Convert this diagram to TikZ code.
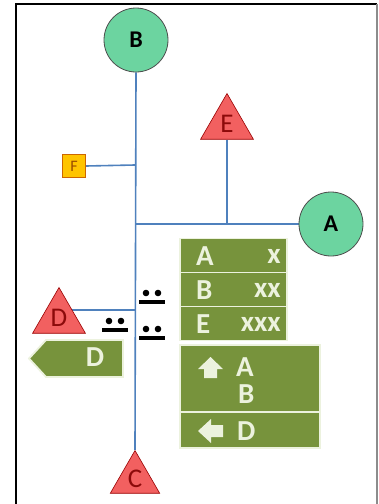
\documentclass[tikz,border=0pt]{standalone}
\usepackage{fontspec}
\setmainfont{Carlito}
\usetikzlibrary{shapes.geometric}
\definecolor{mint}{RGB}{108,212,160}
\definecolor{redtri}{RGB}{242,96,96}
\definecolor{redtxt}{RGB}{140,10,10}
\definecolor{gold}{RGB}{255,196,0}
\definecolor{olive}{RGB}{119,147,60}
\definecolor{cream}{RGB}{236,242,222}
\definecolor{linkblue}{RGB}{79,129,189}
\pgfdeclarelayer{background}
\pgfsetlayers{background,main}
\tikzset{
  circ/.style={circle, draw=black!70, line width=0.8pt, fill=mint, minimum size=64pt, inner sep=0pt,
    font=\fontsize{24}{24}\selectfont\bfseries},
  tri/.style={regular polygon, regular polygon sides=3, draw=red!60!black, line width=0.6pt, fill=redtri,
    minimum size=61pt, inner sep=0pt, text=redtxt, font=\fontsize{27}{27}\selectfont},
  fbox/.style={rectangle, draw=orange!80!black, line width=0.8pt, fill=gold, minimum size=23pt, inner sep=0pt,
    text=orange!60!black, font=\fontsize{16}{16}\selectfont},
  link/.style={draw=linkblue, line width=1.6pt},
  signbox/.style={rectangle, draw=cream, line width=1.8pt, fill=olive, inner sep=0pt},
  signtxt/.style={text=cream, inner sep=0pt, font=\fontsize{29}{29}\selectfont\bfseries},
  warrow/.style={fill=cream, draw=none},
  pics/walk/.style={code={
    \fill (-6,-3) circle (3.3pt);
    \fill (6,-3) circle (3.3pt);
    \fill (-13,3.5) rectangle (13,7.5);
  }}
}
\begin{document}
\begin{tikzpicture}[x=1pt,y=-1pt]
\useasboundingbox (0,0) rectangle (379,504);
% frame
\draw[black, line width=2pt] (16,504) -- (16,4) -- (377,4);
\draw[black!45, line width=1.2pt] (377,4) -- (377,504);

% nodes
\node[circ] (B) at (136,40) {B};
\node[circ] (A) at (331,224) {A};
\node[tri] (E) at (227,124) {E};
\node[tri] (D) at (59,318) {D};
\node[tri, minimum size=57pt] (C) at (135,479) {C};
\node[fbox] (F) at (74,166) {F};

\coordinate (jF) at (135,165);
\coordinate (jA) at (135,224);
\coordinate (jE) at (227,224);
\coordinate (jD) at (135,310);

\begin{pgfonlayer}{background}
\draw[link] (B.south) -- (C.corner 1);
\draw[link] (F.east) -- (jF);
\draw[link] (jA) -- (A.west);
\draw[link] (E.side 2) -- (jE);
\draw[link] (jD) -- (D.center |- jD);
\end{pgfonlayer}

% pedestrian symbols
\pic (w1) at (152,296) {walk};
\pic (w2) at (115,324) {walk};
\pic (w3) at (152,332) {walk};

% sign table
\node[signbox, minimum width=107pt, minimum height=34pt] (r1) at (233.5,255.5) {};
\node[signbox, minimum width=107pt, minimum height=34pt] (r2) at (233.5,289.5) {};
\node[signbox, minimum width=107pt, minimum height=34pt] (r3) at (233.5,323.5) {};
\node[signtxt, anchor=west] (r1a) at (196,256) {A};
\node[signtxt, anchor=east] (r1b) at (281,256) {x};
\node[signtxt, anchor=west] (r2a) at (196,290) {B};
\node[signtxt, anchor=east] (r2b) at (281,290) {xx};
\node[signtxt, anchor=west] (r3a) at (196,324) {E};
\node[signtxt, anchor=east] (r3b) at (281,324) {xxx};

% direction sign
\node[signbox, minimum width=140pt, minimum height=67pt] (s1) at (250,378.5) {};
\node[signbox, minimum width=140pt, minimum height=36pt] (s2) at (250,430) {};
\fill[warrow] (210.5,357) -- (223,369) -- (217,369) -- (217,378) -- (204,378) -- (204,369) -- (198,369) -- cycle;
\node[signtxt, anchor=west] (s1a) at (236,367) {A};
\node[signtxt, anchor=west] (s1b) at (238,394) {B};
\fill[warrow] (198,431) -- (211,419) -- (211,425) -- (223,425) -- (223,437) -- (211,437) -- (211,443) -- cycle;
\node[signtxt, anchor=west] (s2a) at (237,431) {D};

% left sign
\path[signbox, draw=cream, fill=olive] (29,358.5) -- (46,340) -- (123,340) -- (123,377) -- (46,377) -- cycle;
\node[signtxt] (ld) at (95,357) {D};
\end{tikzpicture}
\end{document}
